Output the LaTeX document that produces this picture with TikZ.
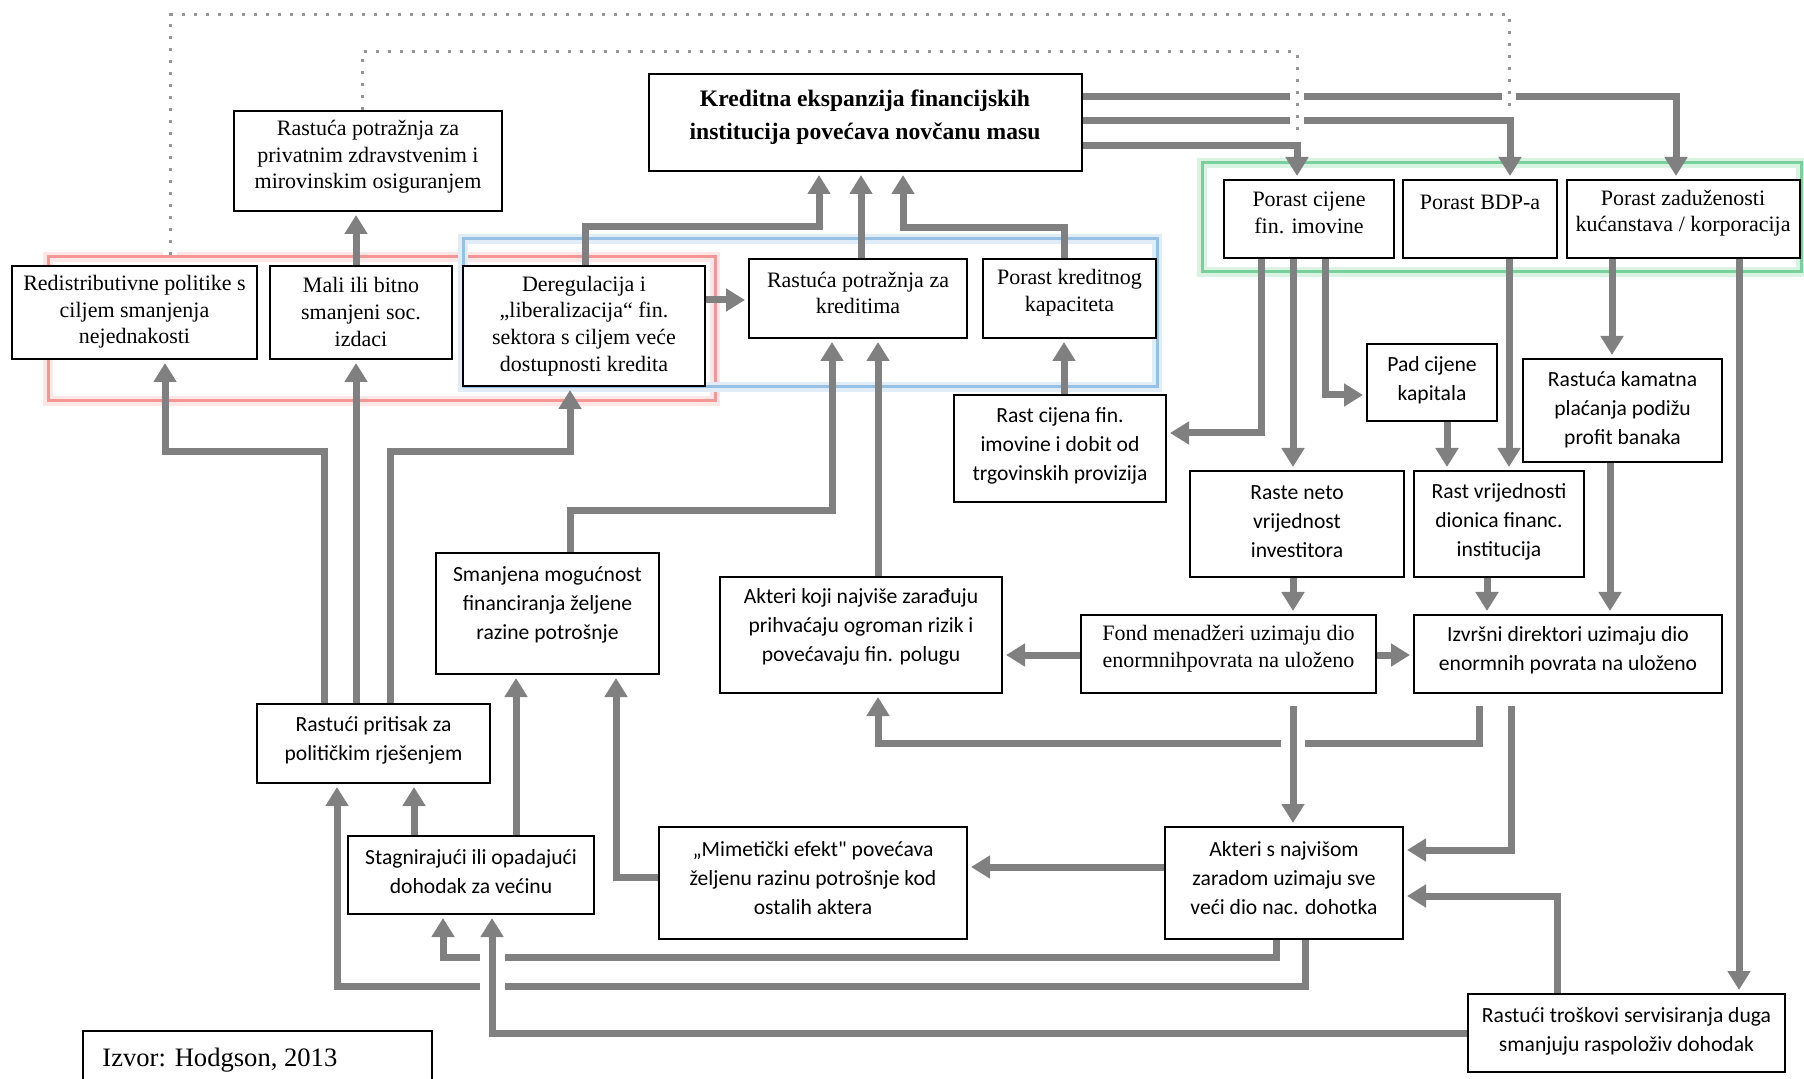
\documentclass[tikz,border=0pt]{standalone}
\usepackage{fontspec}
\setmainfont{Liberation Serif}
\newfontfamily\ser{Liberation Serif}
\newfontfamily\san{Carlito}
\usetikzlibrary{arrows.meta,fit,backgrounds}
\definecolor{agray}{RGB}{128,128,128}
\definecolor{dgray}{RGB}{150,150,150}
\definecolor{fred}{RGB}{242,150,150}
\definecolor{fredg}{RGB}{253,230,230}
\definecolor{fblue}{RGB}{150,192,228}
\definecolor{fblueg}{RGB}{224,237,248}
\definecolor{fgreen}{RGB}{120,208,155}
\definecolor{fgreeng}{RGB}{216,243,226}
\begin{document}
\begin{tikzpicture}[x=0.5pt,y=-0.5pt,
  bx/.style={draw=black, line width=1pt, fill=white, inner sep=0pt},
  st/.style={font=\ser\fontsize{11}{13.3}\selectfont, align=center, inner sep=0pt},
  ss/.style={font=\san\fontsize{10.8}{14.5}\selectfont, align=center, inner sep=0pt},
  arr/.style={draw=agray, line width=3.5pt, line join=miter, -{Triangle[width=11pt,length=9.5pt]}, shorten >=1.5pt},
  dotl/.style={draw=dgray, line width=1.5pt, dash pattern=on 1.5pt off 4.5pt, preaction={draw=white, line width=7pt, solid}},
  grp/.style={draw=#1, line width=1.5pt, inner sep=0pt, preaction={draw=#1g, line width=5pt}}]
\path[use as bounding box] (0,0) rectangle (1804,1079);

% ---------- boxes ----------
\node[bx, fit={(649,74) (1082,171)}] (k) {};
\node[bx, fit={(234,111) (502,211)}] (zdrav) {};
\node[bx, fit={(12,266) (257,359)}] (redis) {};
\node[bx, fit={(270,266) (452,359)}] (mali) {};
\node[bx, fit={(463,266) (705,386)}] (dereg) {};
\node[bx, fit={(749,259) (967,338)}] (potr) {};
\node[bx, fit={(983,259) (1156,338)}] (kap) {};
\node[bx, fit={(1224,180) (1394,258)}] (cij) {};
\node[bx, fit={(1403,180) (1557,258)}] (bdp) {};
\node[bx, fit={(1567,180) (1800,258)}] (zad) {};
\node[bx, fit={(1367,344) (1497,421)}] (pad) {};
\node[bx, fit={(1523,359) (1722,462)}] (kam) {};
\node[bx, fit={(954,395) (1166,502)}] (rcf) {};
\node[bx, fit={(1190,471) (1404,577)}] (neto) {};
\node[bx, fit={(1414,471) (1584,577)}] (dion) {};
\node[bx, fit={(720,577) (1002,693)}] (akt) {};
\node[bx, fit={(1081,615) (1376,693)}] (fond) {};
\node[bx, fit={(1414,615) (1722,693)}] (izv) {};
\node[bx, fit={(436,553) (659,674)}] (sman) {};
\node[bx, fit={(257,704) (490,783)}] (prit) {};
\node[bx, fit={(348,836) (594,914)}] (stag) {};
\node[bx, fit={(659,827) (967,939)}] (mim) {};
\node[bx, fit={(1165,827) (1403,939)}] (aktn) {};
\node[bx, fit={(1468,994) (1785,1072)}] (tros) {};

% ---------- texts ----------
\node[st, font=\ser\bfseries\fontsize{11.8}{16.5}\selectfont] (k-t) at (865,117) {Kreditna ekspanzija financijskih\\institucija povećava novčanu masu};
\node[st] (zdrav-t) at (368,157) {Rastuća potražnja za\\privatnim zdravstvenim i\\mirovinskim osiguranjem};
\node[st] (redis-t) at (134.5,312) {Redistributivne politike s\\ciljem smanjenja\\nejednakosti};
\node[st] (mali-t) at (361,312) {Mali ili bitno\\smanjeni soc.\\izdaci};
\node[st] (dereg-t) at (584,326) {Deregulacija i\\„liberalizacija“ fin.\\sektora s ciljem veće\\dostupnosti kredita};
\node[st] (potr-t) at (858,293) {Rastuća potražnja za\\kreditima};
\node[st] (kap-t) at (1069.5,293) {Porast kreditnog\\kapaciteta};
\node[st] (cij-t) at (1309,213) {Porast cijene\\fin. imovine};
\node[st] (bdp-t) at (1480,202) {Porast BDP-a};
\node[st] (zad-t) at (1683,213) {Porast zaduženosti\\kućanstava / korporacija};
\node[st] (fond-t) at (1228.5,648.5) {Fond menadžeri uzimaju dio\\enormnihpovrata na uloženo};
\node[ss] (pad-t) at (1432,380) {Pad cijene\\kapitala};
\node[ss] (kam-t) at (1622.5,410) {Rastuća kamatna\\plaćanja podižu\\profit banaka};
\node[ss] (rcf-t) at (1060,446) {Rast cijena fin.\\imovine i dobit od\\trgovinskih provizija};
\node[ss] (neto-t) at (1297,522) {Raste neto\\vrijednost\\investitora};
\node[ss] (dion-t) at (1499,522) {Rast vrijednosti\\dionica financ.\\institucija};
\node[ss] (akt-t) at (861,627) {Akteri koji najviše zarađuju\\prihvaćaju ogroman rizik i\\povećavaju fin. polugu};
\node[ss] (izv-t) at (1568,650) {Izvršni direktori uzimaju dio\\enormnih povrata na uloženo};
\node[ss] (sman-t) at (547.5,605) {Smanjena mogućnost\\financiranja željene\\razine potrošnje};
\node[ss] (prit-t) at (373.5,740) {Rastući pritisak za\\političkim rješenjem};
\node[ss] (stag-t) at (471,872) {Stagnirajući ili opadajući\\dohodak za većinu};
\node[ss] (mim-t) at (813,878) {„Mimetički efekt" povećava\\željenu razinu potrošnje kod\\ostalih aktera};
\node[ss] (aktn-t) at (1284,878) {Akteri s najvišom\\zaradom uzimaju sve\\veći dio nac. dohotka};
\node[ss] (tros-t) at (1626.5,1031) {Rastući troškovi servisiranja duga\\smanjuju raspoloživ dohodak};
\node[font=\ser\fontsize{13.3}{16}\selectfont, anchor=base west, inner sep=0pt] (izvor) at (102,1066) {Izvor: Hodgson, 2013};
\draw[line width=1pt] (83,1079) -- (83,1031) -- (432,1031) -- (432,1079);

\begin{pgfonlayer}{background}
% ---------- group frames ----------
\node[grp=fred, fit={(48,257) (715,401)}] (grpred) {};
\node[grp=fblue, fit={(463,239) (1157,387)}] (grpblue) {};
\node[grp=fgreen, fit={(1202,163) (1801,272)}] (grpgreen) {};

% ---------- arrows ----------
\draw[arr] (dereg.north -| 585,0) -- (585,227) -- (819,227) -- (k.south -| 819,0);
\draw[arr] (potr.north -| 861,0) -- (k.south -| 861,0);
\draw[arr] (kap.north -| 1064,0) -- (1064,228) -- (903,228) -- (k.south -| 903,0);
\draw[arr] (dereg.east |- 0,300) -- (potr.west |- 0,300);
\draw[arr] (mali.north -| 356,0) -- (zdrav.south -| 356,0);
\draw[arr] (k.east |- 0,146) -- (1297,146) -- (cij.north -| 1297,0);
\draw[arr] (k.east |- 0,121) -- (1510,121) -- (bdp.north -| 1510,0);
\draw[arr] (k.east |- 0,97) -- (1676,97) -- (zad.north -| 1676,0);
\draw[arr] (cij.south -| 1261,0) -- (1261,433) -- (rcf.east |- 0,433);
\draw[arr] (cij.south -| 1293,0) -- (neto.north -| 1293,0);
\draw[arr] (cij.south -| 1325,0) -- (1325,395) -- (pad.west |- 0,395);
\draw[arr] (pad.south -| 1447,0) -- (dion.north -| 1447,0);
\draw[arr] (bdp.south -| 1509,0) -- (dion.north -| 1509,0);
\draw[arr] (zad.south -| 1612,0) -- (kam.north -| 1612,0);
\draw[arr] (zad.south -| 1739,0) -- (tros.north -| 1739,0);
\draw[arr] (kam.south -| 1610,0) -- (izv.north -| 1610,0);
\draw[arr] (neto.south -| 1293,0) -- (fond.north -| 1293,0);
\draw[arr] (dion.south -| 1487,0) -- (izv.north -| 1487,0);
\draw[arr] (fond.east |- 0,655) -- (izv.west |- 0,655);
\draw[arr] (fond.west |- 0,655) -- (akt.east |- 0,655);
\draw[arr] (rcf.north -| 1064,0) -- (kap.south -| 1064,0);
\draw[arr] (akt.north -| 878,0) -- (potr.south -| 878,0);
\draw[arr] (sman.north -| 570,0) -- (570,511) -- (832,511) -- (potr.south -| 832,0);
\draw[arr, shorten <=6pt] (izv.south -| 1479,0) -- (1479,743) -- (878,743) -- (akt.south -| 878,0);
\fill[white] (1281,736) rectangle (1305,750);
\draw[arr, shorten <=6pt] (fond.south -| 1293,0) -- (aktn.north -| 1293,0);
\draw[arr, shorten <=6pt] (izv.south -| 1511,0) -- (1511,850) -- (aktn.east |- 0,850);
\draw[arr] (tros.north -| 1557,0) -- (1557,896) -- (aktn.east |- 0,896);
\draw[arr] (aktn.west |- 0,867) -- (mim.east |- 0,867);
\draw[arr] (aktn.south -| 1276,0) -- (1276,957) -- (443,957) -- (stag.south -| 443,0);
\draw[arr] (aktn.south -| 1305,0) -- (1305,986) -- (337,986) -- (prit.south -| 337,0);
\fill[white] (480,950) rectangle (505,993);
\draw[arr] (tros.west |- 0,1033) -- (492,1033) -- (stag.south -| 492,0);
\draw[arr] (stag.north -| 414,0) -- (prit.south -| 414,0);
\draw[arr] (stag.north -| 516,0) -- (sman.south -| 516,0);
\draw[arr] (mim.west |- 0,877) -- (616,877) -- (sman.south -| 616,0);
\draw[arr] (prit.north -| 324,0) -- (324,452) -- (165,452) -- (redis.south -| 165,0);
\draw[arr] (prit.north -| 356,0) -- (mali.south -| 356,0);
\draw[arr] (prit.north -| 390,0) -- (390,452) -- (570,452) -- (dereg.south -| 570,0);

% ---------- dotted links ----------
\draw[dotl] (grpred.north -| 170,0) -- (170,15) -- (1509,15) -- (1509,110);
\draw[dotl] (zdrav.north -| 362,0) -- (362,52) -- (1297,52) -- (1297,135);
\end{pgfonlayer}
\end{tikzpicture}
\end{document}
